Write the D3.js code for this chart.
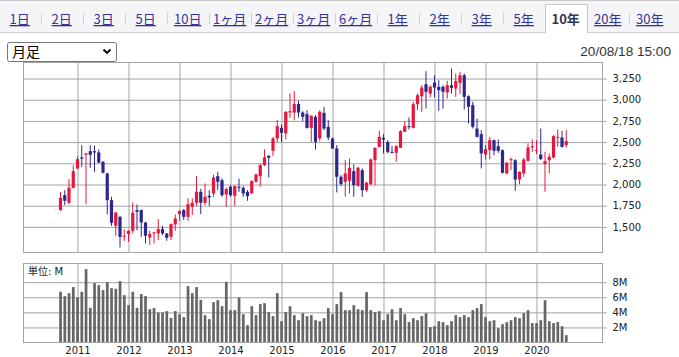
<!DOCTYPE html>
<html><head><meta charset="utf-8">
<script src="https://cdn.jsdelivr.net/npm/d3@7"></script>
<style>
html,body{margin:0;padding:0;background:#fff;}
svg{display:block;}
</style></head><body>
<svg id="c" width="679" height="357"></svg>
<script>
// ---------- data ----------
const months = [
"2010-09","2010-10","2010-11","2010-12",
"2011-01","2011-02","2011-03","2011-04","2011-05","2011-06","2011-07","2011-08","2011-09","2011-10","2011-11","2011-12",
"2012-01","2012-02","2012-03","2012-04","2012-05","2012-06","2012-07","2012-08","2012-09","2012-10","2012-11","2012-12",
"2013-01","2013-02","2013-03","2013-04","2013-05","2013-06","2013-07","2013-08","2013-09","2013-10","2013-11","2013-12",
"2014-01","2014-02","2014-03","2014-04","2014-05","2014-06","2014-07","2014-08","2014-09","2014-10","2014-11","2014-12",
"2015-01","2015-02","2015-03","2015-04","2015-05","2015-06","2015-07","2015-08","2015-09","2015-10","2015-11","2015-12",
"2016-01","2016-02","2016-03","2016-04","2016-05","2016-06","2016-07","2016-08","2016-09","2016-10","2016-11","2016-12",
"2017-01","2017-02","2017-03","2017-04","2017-05","2017-06","2017-07","2017-08","2017-09","2017-10","2017-11","2017-12",
"2018-01","2018-02","2018-03","2018-04","2018-05","2018-06","2018-07","2018-08","2018-09","2018-10","2018-11","2018-12",
"2019-01","2019-02","2019-03","2019-04","2019-05","2019-06","2019-07","2019-08","2019-09","2019-10","2019-11","2019-12",
"2020-01","2020-02","2020-03","2020-04","2020-05","2020-06","2020-07","2020-08"];
const opens = [
1698,1874,1784,1961,
2189,2320,2350,2393,2393,2378,2268,2130,1816,1513,1619,1383,
1415,1454,1698,1698,1552,1375,1423,1423,1474,1423,1383,1529,
1651,1698,1619,1737,1784,1914,1784,1867,1894,2098,2050,1882,
1973,1867,1973,1961,1914,1894,2032,2098,2228,2338,2397,2543,
2668,2602,2849,2849,2951,2849,2830,2668,2798,2543,2845,2680,
2543,2425,2091,2032,2044,2157,1985,2169,1933,2004,2287,2444,
2550,2503,2385,2374,2433,2621,2688,2668,2947,3041,3183,3073,
3203,3152,3152,3085,3171,3132,3199,3289,3041,2936,2660,2594,
2354,2405,2523,2452,2405,2130,2291,2287,2059,2130,2280,2437,
2397,2354,2240,2287,2319,2550,2554,2464];
const highs = [
1914,1933,2063,2228,
2334,2464,2372,2464,2460,2413,2276,2138,1855,1678,1631,1470,
1462,1788,1764,1705,1560,1454,1442,1592,1513,1423,1540,1647,
1698,1710,1835,1839,2098,1949,2012,1933,2118,2150,2071,1961,
1992,1990,2071,1981,1933,2052,2130,2248,2413,2346,2562,2759,
2707,2865,3073,3101,2987,2865,2877,2818,2818,2877,2916,2759,
2554,2464,2110,2287,2307,2236,2209,2189,2032,2307,2437,2633,
2594,2523,2452,2464,2641,2747,2790,2975,3073,3171,3336,3171,
3289,3230,3171,3222,3368,3309,3329,3309,3053,2975,2778,2641,
2464,2562,2531,2531,2413,2268,2319,2299,2155,2315,2484,2531,
2523,2660,2385,2366,2582,2649,2633,2641];
const lows = [
1690,1757,1768,1955,
2181,2209,1768,2197,2150,2248,2130,1647,1513,1395,1257,1332,
1324,1423,1462,1383,1305,1285,1305,1344,1403,1336,1344,1454,
1572,1580,1572,1639,1749,1651,1757,1749,1855,1933,1855,1737,
1855,1749,1914,1855,1808,1894,2024,1973,2217,2083,2338,2499,
2499,2531,2786,2759,2790,2747,2660,2503,2413,2511,2641,2523,
2420,1906,1981,1855,1894,1855,1973,1855,1914,1992,1992,2436,
2366,2366,2366,2268,2433,2621,2649,2660,2877,2857,2896,3026,
3026,2869,2896,3014,3073,3034,3065,2885,2719,2660,2554,2189,
2295,2295,2346,2374,2130,2122,2170,1926,2004,2091,2268,2385,
2358,2287,1914,2130,2307,2444,2436,2436];
const closes = [
1843,1808,1961,2157,
2299,2305,2366,2350,2378,2260,2138,1816,1548,1670,1383,1395,
1454,1666,1678,1552,1395,1415,1435,1474,1423,1371,1533,1599,
1686,1619,1768,1784,1914,1784,1855,1847,2083,2032,1874,1945,
1874,1981,1961,1894,1863,2040,2118,2228,2319,2315,2543,2688,
2609,2857,2865,2951,2849,2798,2668,2810,2503,2857,2660,2554,
2425,2091,2004,2130,2197,1992,2197,1933,2020,2295,2433,2562,
2531,2385,2374,2452,2629,2688,2680,2947,3053,3144,3093,3152,
3144,3112,3093,3171,3140,3219,3289,3034,2916,2680,2562,2366,
2417,2523,2397,2397,2138,2256,2299,2059,2150,2295,2437,2452,
2405,2299,2276,2327,2570,2562,2444,2511];
const volumes = [ // millions
6.73,6.15,6.55,7.35,
5.97,6.73,9.73,4.60,7.88,7.61,6.95,8.01,7.21,7.12,8.14,6.28,
4.96,6.73,4.60,6.42,6.15,4.42,4.56,3.98,3.98,4.16,3.27,4.16,
3.76,3.36,7.48,6.55,7.35,5.66,3.63,3.10,5.35,5.62,4.82,8.05,
4.29,4.29,5.97,3.76,2.30,4.82,3.63,5.09,5.22,4.03,3.50,6.55,
2.83,4.03,4.82,3.63,2.96,3.89,3.50,3.63,2.96,2.83,3.23,4.56,
3.76,5.09,6.68,4.29,4.29,4.96,4.42,4.29,6.68,4.29,4.03,4.16,
2.96,3.76,4.42,2.96,4.56,3.76,2.70,3.23,2.96,3.50,3.89,2.04,
2.17,2.83,2.70,2.30,2.83,3.63,3.36,3.63,3.36,4.29,4.56,5.09,
3.36,2.83,2.96,1.90,2.43,2.70,2.96,3.36,3.23,3.89,4.29,2.57,
2.57,2.96,5.62,2.83,2.57,2.70,2.17,0.97];
const priceTicks = [1500,1750,2000,2250,2500,2750,3000,3250];
const volumeTicks = [2,4,6,8];
const volumeTickLabels = ["2M","4M","6M","8M"];
const yearLabels = ["2011","2012","2013","2014","2015","2016","2017","2018","2019","2020"];
const tabs = ["1日","2日","3日","5日","10日","1ヶ月","2ヶ月","3ヶ月","6ヶ月","1年","2年","3年","5年","10年","20年","30年"];
const selectedTab = "10年";
const periodLabel = "月足";
const dateLabel = "20/08/18 15:00";
const unitLabel = "単位: M";

// ---------- layout ----------
const L = 23.5, R = 602.5, T1 = 62.5, B1 = 252.5, T2 = 263.5, B2 = 342.5;
const monthPx = 4.25, x0 = 77.5; // Jan 2011 position
const RED = "#e5163f", BLUE = "#2a288c", GRID = "#a3a3a3";
const numFont = "'DejaVu Sans', Verdana, sans-serif";
const jpFont = "'Noto Sans CJK JP', sans-serif";

const svg = d3.select("#c");
const monthIndex = m => { const [y, mo] = m.split("-").map(Number); return (y - 2011) * 12 + (mo - 1); };

const x = d3.scaleLinear().domain([(L - x0) / monthPx, (R - x0) / monthPx]).range([L, R]);
const y = d3.scaleLinear().domain([1198, 3439]).range([B1, T1]);
const yv = d3.scaleLinear().domain([0, 10.48]).range([B2, T2]);
const yearVals = yearLabels.map(s => (+s - 2011) * 12);

// ---------- tab bar ----------
const tabBar = svg.append("g");
tabBar.append("rect").attr("x", 0).attr("y", 0).attr("width", 679).attr("height", 32).attr("fill", "#f5f5f8");
tabBar.append("line").attr("x1", 0).attr("x2", 679).attr("y1", 0.5).attr("y2", 0.5).attr("stroke", "#c8c8c8");
tabBar.append("line").attr("x1", 0).attr("x2", 679).attr("y1", 32.5).attr("y2", 32.5).attr("stroke", "#cfcfd4");
const tb = d3.scaleBand().domain(tabs).range([-1.3, 670.7]);
tabs.forEach((t, i) => {
  const cx = tb(t) + tb.bandwidth() / 2;
  if (t === selectedTab) {
    const x1 = Math.round(tb(t)) + 0.5, x2 = Math.round(tb(t) + tb.bandwidth()) + 0.5;
    tabBar.append("rect").attr("x", x1).attr("y", 4.5).attr("width", x2 - x1).attr("height", 29).attr("fill", "#fff");
    tabBar.append("path").attr("d", `M${x1},33V4.5H${x2}V33`).attr("fill", "none").attr("stroke", "#c8c8c8");
    tabBar.append("text").attr("x", cx).attr("y", 24).attr("text-anchor", "middle")
      .attr("font-family", jpFont).attr("font-size", 13).attr("font-weight", "bold").attr("fill", "#333355").text(t);
  } else {
    tabBar.append("text").attr("x", cx).attr("y", 24).attr("text-anchor", "middle")
      .attr("font-family", jpFont).attr("font-size", 13).attr("fill", "#333399")
      .attr("text-decoration", "underline").text(t);
    const next = tabs[i + 1];
    if (next && next !== selectedTab) {
      const sx = Math.round(tb(t) + tb.bandwidth()) + 0.5;
      tabBar.append("line").attr("x1", sx).attr("x2", sx).attr("y1", 13).attr("y2", 24).attr("stroke", "#d0d0d8");
    }
  }
});

// ---------- select & date ----------
svg.append("rect").attr("x", 7.5).attr("y", 42.5).attr("width", 109).attr("height", 19).attr("rx", 2)
  .attr("fill", "#fff").attr("stroke", "#767676");
svg.append("text").attr("x", 12).attr("y", 57).attr("font-family", jpFont).attr("font-size", 14).attr("fill", "#000").text(periodLabel);
svg.append("path").attr("d", "M103.5,49.5L107,53L110.5,49.5").attr("fill", "none").attr("stroke", "#000").attr("stroke-width", 1.8);
svg.append("text").attr("x", 671).attr("y", 55.5).attr("text-anchor", "end")
  .attr("font-family", "'Liberation Sans', Arial, sans-serif").attr("font-size", 13.6).attr("fill", "#333").text(dateLabel);

// ---------- main price panel ----------
function clean(g) { g.select(".domain").remove(); }
svg.append("g").attr("transform", `translate(0,${B1})`)
  .call(d3.axisBottom(x).tickValues(yearVals).tickSize(-(B1 - T1)).tickFormat(""))
  .call(clean).call(g => g.selectAll("line").attr("stroke", GRID));
svg.append("g").attr("transform", `translate(${R},0)`)
  .call(d3.axisRight(y).tickValues(priceTicks).tickSize(-(R - L)).tickFormat(""))
  .call(clean).call(g => g.selectAll("line").attr("stroke", GRID));
svg.append("g").attr("transform", `translate(${R},0)`)
  .call(d3.axisRight(y).tickValues(priceTicks).tickSize(4).tickPadding(6).tickFormat(d3.format(",")))
  .call(clean)
  .call(g => g.selectAll("line").attr("stroke", GRID))
  .call(g => g.selectAll("text").attr("font-family", numFont).attr("font-size", 10).attr("fill", "#222"));
svg.append("rect").attr("x", L).attr("y", T1).attr("width", R - L).attr("height", B1 - T1)
  .attr("fill", "none").attr("stroke", GRID);

const candles = months.map((m, i) => ({ m: monthIndex(m), o: opens[i], h: highs[i], l: lows[i], c: closes[i] }));
const cg = svg.append("g");
cg.selectAll("line").data(candles).join("line")
  .attr("x1", d => x(d.m)).attr("x2", d => x(d.m))
  .attr("y1", d => y(d.h)).attr("y2", d => y(d.l))
  .attr("stroke", d => d.c >= d.o ? RED : BLUE).attr("stroke-width", 1);
cg.selectAll("rect").data(candles).join("rect")
  .attr("x", d => x(d.m) - 1.6).attr("width", 3.2)
  .attr("y", d => y(Math.max(d.o, d.c)))
  .attr("height", d => Math.max(1, Math.abs(y(d.o) - y(d.c))))
  .attr("fill", d => d.c >= d.o ? RED : BLUE);

// ---------- volume panel ----------
svg.append("g").attr("transform", `translate(0,${B2})`)
  .call(d3.axisBottom(x).tickValues(yearVals).tickSize(-(B2 - T2)).tickFormat(""))
  .call(clean).call(g => g.selectAll("line").attr("stroke", GRID));
svg.append("g").attr("transform", `translate(${R},0)`)
  .call(d3.axisRight(yv).tickValues(volumeTicks).tickSize(-(R - L)).tickFormat(""))
  .call(clean).call(g => g.selectAll("line").attr("stroke", GRID));
svg.append("g").attr("transform", `translate(${R},0)`)
  .call(d3.axisRight(yv).tickValues(volumeTicks).tickSize(4).tickPadding(6).tickFormat((d, i) => volumeTickLabels[i]))
  .call(clean)
  .call(g => g.selectAll("line").attr("stroke", GRID))
  .call(g => g.selectAll("text").attr("font-family", numFont).attr("font-size", 10).attr("fill", "#222"));

svg.append("g").selectAll("rect").data(months).join("rect")
  .attr("x", (m) => x(monthIndex(m)) - 1.3).attr("width", 2.7)
  .attr("y", (m, i) => yv(volumes[i]))
  .attr("height", (m, i) => B2 - yv(volumes[i]))
  .attr("fill", "#666");

svg.append("rect").attr("x", L).attr("y", T2).attr("width", R - L).attr("height", B2 - T2)
  .attr("fill", "none").attr("stroke", GRID);
svg.append("text").attr("x", 28).attr("y", 274.5)
  .attr("font-family", "'DejaVu Sans', 'Noto Sans CJK JP', sans-serif").attr("font-size", 10).attr("fill", "#222").text(unitLabel);

// year labels
svg.append("g").attr("transform", `translate(0,${B2})`)
  .call(d3.axisBottom(x).tickValues(yearVals).tickSize(0).tickPadding(4.4).tickFormat((d, i) => yearLabels[i]))
  .call(clean)
  .call(g => g.selectAll("text").attr("font-family", numFont).attr("font-size", 10).attr("fill", "#222"));
</script>
</body></html>
